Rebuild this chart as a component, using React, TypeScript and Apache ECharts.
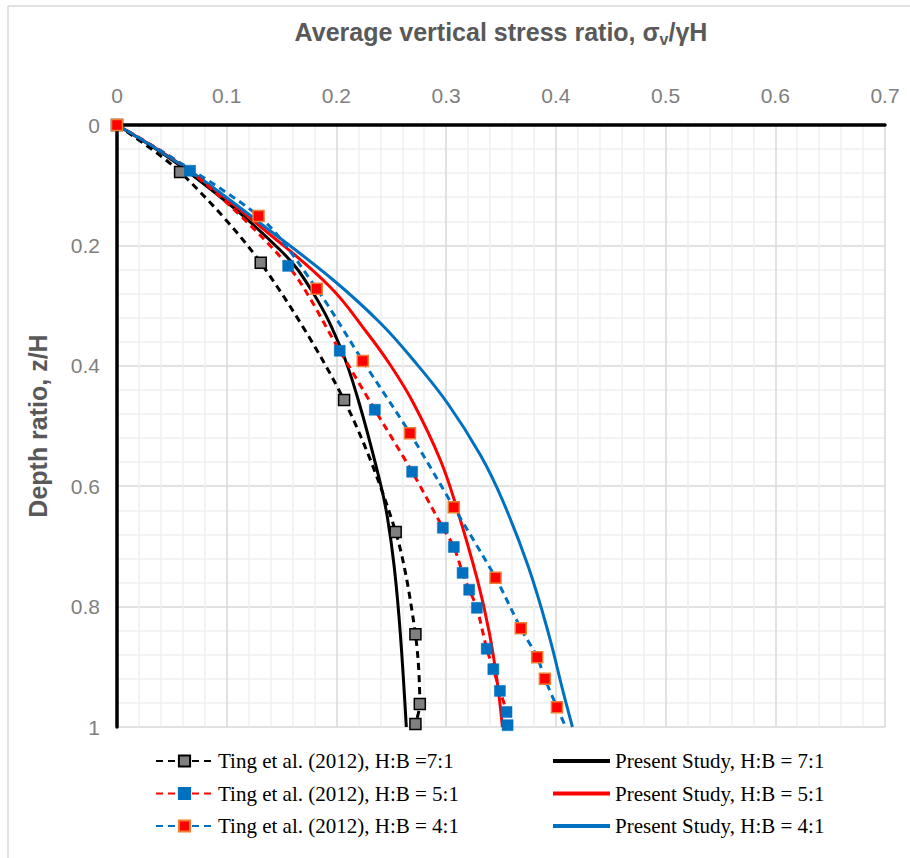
import React, { useEffect, useRef } from "react";
import * as echarts from "echarts";

// Ting et al. (2012) measured points: stress ratio (x) vs depth ratio (y)
const ting71Stress = [0, 0.0575, 0.131, 0.207, 0.254, 0.272, 0.276, 0.272];
const ting71Depth = [0, 0.078, 0.229, 0.457, 0.676, 0.846, 0.962, 0.995];

const ting51Stress = [0, 0.0666, 0.156, 0.203, 0.235, 0.269, 0.297, 0.307, 0.315, 0.321, 0.328, 0.337, 0.343, 0.349, 0.355, 0.356];
const ting51Depth = [0, 0.076, 0.234, 0.375, 0.473, 0.576, 0.669, 0.701, 0.744, 0.772, 0.802, 0.87, 0.904, 0.94, 0.975, 0.997];

const ting41Stress = [0, 0.129, 0.182, 0.224, 0.267, 0.307, 0.345, 0.368, 0.383, 0.39, 0.401, 0.409];
const ting41Depth = [0, 0.151, 0.272, 0.392, 0.512, 0.635, 0.752, 0.836, 0.884, 0.92, 0.967, 1.0];
const ting41HiddenMarker = [false, false, false, false, false, false, false, false, false, false, false, true];

// Present Study curves
const ps71Stress = [0, 0.0639, 0.1487, 0.1788, 0.2035, 0.2199, 0.24, 0.2464, 0.2527, 0.2582, 0.2637];
const ps71Depth = [0, 0.0764, 0.2076, 0.2791, 0.3688, 0.4568, 0.5947, 0.6512, 0.7342, 0.8439, 1.0];

const ps51Stress = [0, 0.0666, 0.1378, 0.1943, 0.2281, 0.2491, 0.2701, 0.2947, 0.3102, 0.3285, 0.3394, 0.3467, 0.3513];
const ps51Depth = [0, 0.0764, 0.1794, 0.2691, 0.3455, 0.3987, 0.4618, 0.5565, 0.6395, 0.7558, 0.8439, 0.9269, 1.0];

const ps41Stress = [0, 0.0666, 0.1423, 0.1971, 0.24, 0.2701, 0.3011, 0.3312, 0.3513, 0.375, 0.3932, 0.4069, 0.4151];
const ps41Depth = [0, 0.0764, 0.1794, 0.2575, 0.3289, 0.3904, 0.4618, 0.5482, 0.6229, 0.7342, 0.8439, 0.9435, 1.0];

const tingNames = [
  "Ting et al. (2012), H:B =7:1",
  "Ting et al. (2012), H:B = 5:1",
  "Ting et al. (2012), H:B = 4:1",
];
const psNames = [
  "Present Study, H:B = 7:1",
  "Present Study, H:B = 5:1",
  "Present Study, H:B = 4:1",
];

const BLACK = "#000000";
const RED = "#ff0000";
const BLUE = "#0070c0";
const GRAY = "#808080";
const ORANGE = "#ed7d31";

function pairs(xs: number[], ys: number[]) {
  return xs.map((x, i) => [x, ys[i]]);
}

export default function App() {
  const ref = useRef<HTMLDivElement>(null);
  useEffect(() => {
    if (!ref.current) return;
    const chart = echarts.init(ref.current, null, { renderer: "svg" });
    const dash = [7, 5];
    const sans = "'Liberation Sans', Arial, sans-serif";
    const legendText = {
      fontFamily: "'Liberation Serif', 'Times New Roman', serif",
      fontSize: 21,
      color: "#000",
      lineHeight: 24,
    };
    const lineIcon = "path://M0,0H57V4H0Z";
    const option: any = {
      animation: false,
      backgroundColor: "#ffffff",
      grid: { left: 117, top: 125, right: 25, bottom: 131, containLabel: false },
      xAxis: {
        type: "value",
        position: "top",
        min: 0,
        max: 0.7,
        interval: 0.1,
        name: "Average vertical stress ratio, σ{sub|v}/γH",
        nameLocation: "middle",
        nameGap: 78,
        nameTextStyle: {
          fontFamily: sans,
          fontSize: 25,
          fontWeight: "bold",
          color: "#595959",
          lineHeight: 30,
          rich: {
            sub: {
              fontFamily: sans,
              fontSize: 16,
              fontWeight: "bold",
              color: "#595959",
              lineHeight: 12,
              verticalAlign: "bottom",
            },
          },
        },
        axisLine: { show: true, onZero: false, lineStyle: { color: BLACK, width: 3.5 } },
        axisTick: { show: false },
        axisLabel: { margin: 19, fontFamily: sans, fontSize: 21, color: "#7f7f7f" },
        splitLine: { show: true, lineStyle: { color: "#d9d9d9", width: 1.5 } },
        minorTick: { show: false, splitNumber: 5 },
        minorSplitLine: { show: true, lineStyle: { color: "#efefef", width: 1.5 } },
      },
      yAxis: {
        type: "value",
        inverse: true,
        min: 0,
        max: 1,
        interval: 0.2,
        name: "Depth ratio, z/H",
        nameLocation: "middle",
        nameGap: 67,
        nameTextStyle: { fontFamily: sans, fontSize: 25, fontWeight: "bold", color: "#595959" },
        axisLine: { show: true, onZero: false, lineStyle: { color: BLACK, width: 3.5 } },
        axisTick: { show: false },
        axisLabel: { margin: 17, fontFamily: sans, fontSize: 21, color: "#7f7f7f" },
        splitLine: { show: true, lineStyle: { color: "#d9d9d9", width: 1.5 } },
        minorTick: { show: false, splitNumber: 5 },
        minorSplitLine: { show: true, lineStyle: { color: "#efefef", width: 1.5 } },
      },
      legend: [
        {
          data: tingNames,
          orient: "vertical",
          left: 150,
          top: 744,
          itemWidth: 57,
          itemHeight: 14,
          itemGap: 8.5,
          textStyle: legendText,
        },
        {
          data: psNames.map((n) => ({ name: n, icon: lineIcon })),
          orient: "vertical",
          left: 548,
          top: 744,
          itemWidth: 57,
          itemHeight: 14,
          itemGap: 8.5,
          textStyle: legendText,
        },
      ],
      graphic: [
        { type: "line", shape: { x1: 8, y1: 6, x2: 8, y2: 858 }, style: { stroke: "#d9d9d9", lineWidth: 1.5 } },
        { type: "line", shape: { x1: 8, y1: 6, x2: 910, y2: 6 }, style: { stroke: "#d9d9d9", lineWidth: 1.5 } },
      ],
      series: [
        {
          name: psNames[0],
          type: "line",
          data: pairs(ps71Stress, ps71Depth),
          smooth: 0.4,
          symbol: "none",
          lineStyle: { color: BLACK, width: 3 },
          itemStyle: { color: BLACK },
          z: 2,
        },
        {
          name: psNames[1],
          type: "line",
          data: pairs(ps51Stress, ps51Depth),
          smooth: 0.4,
          symbol: "none",
          lineStyle: { color: RED, width: 3 },
          itemStyle: { color: RED },
          z: 2,
        },
        {
          name: psNames[2],
          type: "line",
          data: pairs(ps41Stress, ps41Depth),
          smooth: 0.4,
          symbol: "none",
          lineStyle: { color: BLUE, width: 3 },
          itemStyle: { color: BLUE },
          z: 2,
        },
        {
          name: tingNames[0],
          type: "line",
          data: pairs(ting71Stress, ting71Depth),
          smooth: 0.3,
          symbol: "rect",
          symbolSize: 11,
          lineStyle: { color: BLACK, width: 3, type: dash },
          itemStyle: { color: GRAY, borderColor: BLACK, borderWidth: 1.5 },
          z: 3,
        },
        {
          name: tingNames[1],
          type: "line",
          data: pairs(ting51Stress, ting51Depth),
          smooth: 0.3,
          symbol: "rect",
          symbolSize: 11,
          lineStyle: { color: RED, width: 3, type: dash },
          itemStyle: { color: BLUE, borderColor: BLUE, borderWidth: 0.5 },
          z: 3,
        },
        {
          name: tingNames[2],
          type: "line",
          data: ting41Stress.map((x, i) =>
            ting41HiddenMarker[i]
              ? { value: [x, ting41Depth[i]], symbol: "none" }
              : { value: [x, ting41Depth[i]] }
          ),
          smooth: 0.3,
          symbol: "rect",
          symbolSize: 11,
          lineStyle: { color: BLUE, width: 3, type: dash },
          itemStyle: { color: RED, borderColor: ORANGE, borderWidth: 1.5 },
          z: 4,
        },
      ],
    };
    chart.setOption(option);
    return () => chart.dispose();
  }, []);
  return (
    <div
      ref={ref}
      style={{ position: "fixed", left: 0, top: 0, width: 910, height: 858, background: "#fff" }}
    />
  );
}
